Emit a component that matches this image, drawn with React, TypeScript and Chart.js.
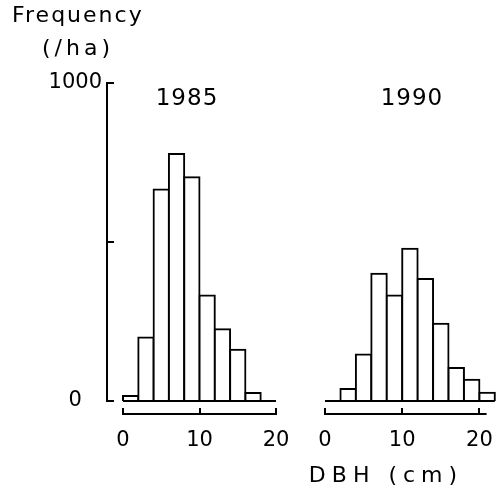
import React, { useEffect, useRef } from "react";
import { Chart, registerables } from "chart.js";

Chart.register(...registerables);

// ---------------- data ----------------
const BIN_WIDTH = 2; // cm
const bins1985 = [0, 2, 4, 6, 8, 10, 12, 14, 16]; // lower bin edges (cm)
const freq1985 = [16, 200, 665, 777, 704, 332, 226, 161, 25]; // trees / ha
const bins1990 = [2, 4, 6, 8, 10, 12, 14, 16, 18, 20];
const freq1990 = [38, 146, 400, 332, 479, 384, 243, 104, 67, 26];
const xTicks = [0, 10, 20];
const yTickMarks = [0, 500, 1000];
const yTickLabels = [0, 1000];
const baseline1985 = [0, 20];
const baseline1990 = [0, 22];
const axisRange1985 = [0, 20];
const axisRange1990 = [0, 20.8];
const panelTitles = ["1985", "1990"];
const yTitleLines = ["Frequency", "(/ha)"];
const xTitle = "DBH (cm)";

// ---------------- style / layout ----------------
const FONT = "'DejaVu Sans', sans-serif";
const W = 501;
const H = 490;
const SPLIT = 290; // where the right panel's canvas begins

type Txt = { text: string; x: (c: any) => number; y: (c: any) => number; size: number; spacing: number; align: CanvasTextAlign; baseline: CanvasTextBaseline };

type PanelCfg = {
  width: number;
  bins: number[];
  freq: number[];
  baseline: number[];
  axisRange: number[];
  xMin: number;
  xMax: number;
  showY: boolean;
  padding: { left: number; right: number; top: number; bottom: number };
  texts: Txt[];
};

const toPoints = (edges: number[], values: number[]) =>
  edges.map((e, i) => ({ x: e + BIN_WIDTH / 2, y: values[i] }));
const toBaseline = (range: number[]) => range.map((x) => ({ x, y: 0 }));

const makePlugin = (cfg: PanelCfg) => ({
  id: "detachedAxes",
  afterDraw(chart: any) {
    const { ctx, chartArea, scales } = chart;
    const y = scales.y;
    const x = scales.x;
    ctx.save();
    ctx.strokeStyle = "#000";
    ctx.lineWidth = 2;
    ctx.lineCap = "square";
    if (cfg.showY) {
      const yx = chartArea.left - 16;
      ctx.beginPath();
      ctx.moveTo(yx, y.getPixelForValue(yTickMarks[0]));
      ctx.lineTo(yx, y.getPixelForValue(yTickMarks[yTickMarks.length - 1]));
      yTickMarks.forEach((v) => {
        const py = Math.round(y.getPixelForValue(v));
        ctx.moveTo(yx, py);
        ctx.lineTo(yx + 6, py);
      });
      ctx.stroke();
    }
    const ay = chartArea.bottom + 13;
    ctx.beginPath();
    ctx.moveTo(x.getPixelForValue(cfg.axisRange[0]), ay);
    ctx.lineTo(x.getPixelForValue(cfg.axisRange[1]), ay);
    xTicks.forEach((v) => {
      const px = Math.round(x.getPixelForValue(v));
      ctx.moveTo(px, ay);
      ctx.lineTo(px, ay - 5);
    });
    ctx.stroke();

    ctx.fillStyle = "#000";
    cfg.texts.forEach((t) => {
      ctx.font = `${t.size}px ${FONT}`;
      (ctx as any).letterSpacing = `${t.spacing}px`;
      ctx.textAlign = t.align;
      ctx.textBaseline = t.baseline;
      const dx = t.align === "center" ? t.spacing / 2 : 0;
      ctx.fillText(t.text, t.x(chart) + dx, t.y(chart));
    });
    ctx.restore();
  },
});

function buildChart(canvas: HTMLCanvasElement, cfg: PanelCfg) {
  return new Chart(canvas, {
    type: "bar",
    data: {
      datasets: [
        {
          type: "bar",
          data: toPoints(cfg.bins, cfg.freq),
          backgroundColor: "#fff",
          borderColor: "#000",
          borderWidth: 2,
          inflateAmount: 1,
          barPercentage: 1,
          categoryPercentage: 1,
          clip: false,
          order: 1,
        } as any,
        {
          type: "line",
          data: toBaseline(cfg.baseline),
          borderColor: "#000",
          borderWidth: 2,
          pointRadius: 0,
          clip: false,
          order: 0,
        } as any,
      ],
    },
    options: {
      responsive: false,
      animation: false,
      devicePixelRatio: 1,
      layout: { padding: cfg.padding },
      plugins: { legend: { display: false }, tooltip: { enabled: false }, title: { display: false } },
      scales: {
        x: {
          type: "linear",
          position: "bottom",
          offset: false,
          min: cfg.xMin,
          max: cfg.xMax,
          bounds: "data",
          afterBuildTicks: (s: any) => {
            s.ticks = xTicks.map((v) => ({ value: v }));
          },
          afterFit: (s: any) => {
            s.height = 60;
            s.paddingLeft = 0;
            s.paddingRight = 0;
          },
          grid: { display: false, drawTicks: false },
          border: { display: false },
          ticks: {
            font: { family: FONT, size: 21 },
            color: "#000",
            padding: 26.9,
            maxRotation: 0,
            autoSkip: false,
            callback: (v: any) => String(v),
          },
        },
        y: {
          type: "linear",
          position: "left",
          display: cfg.showY,
          min: 0,
          max: 1000,
          bounds: "data",
          afterBuildTicks: (s: any) => {
            s.ticks = yTickLabels.map((v) => ({ value: v }));
          },
          afterFit: (s: any) => {
            s.width = cfg.showY ? 74 : 0;
            s.paddingTop = 0;
            s.paddingBottom = 0;
          },
          grid: { display: false, drawTicks: false },
          border: { display: false },
          ticks: {
            crossAlign: "center",
            padding: 21,
            font: { family: FONT, size: 21 },
            color: "#000",
            callback: (v: any) => String(v),
          },
        },
      } as any,
    },
    plugins: [makePlugin(cfg)],
  });
}

const leftCfg: PanelCfg = {
  width: SPLIT,
  bins: bins1985,
  freq: freq1985,
  baseline: baseline1985,
  axisRange: axisRange1985,
  xMin: 0,
  xMax: 21.83,
  showY: true,
  padding: { left: 49, right: 0, top: 83, bottom: 29 },
  texts: [
    { text: panelTitles[0], x: (c) => c.scales.x.getPixelForValue(8.3), y: (c) => c.scales.y.getPixelForValue(950), size: 23, spacing: 1, align: "center", baseline: "middle" },
    { text: yTitleLines[0], x: () => 12, y: () => 22, size: 22, spacing: 2, align: "left", baseline: "alphabetic" },
    { text: yTitleLines[1], x: () => 76, y: () => 55, size: 22, spacing: 4, align: "center", baseline: "alphabetic" },
  ],
};

const rightCfg: PanelCfg = {
  width: W - SPLIT,
  bins: bins1990,
  freq: freq1990,
  baseline: baseline1990,
  axisRange: axisRange1990,
  xMin: -4.53,
  xMax: 22.28,
  showY: false,
  padding: { left: 0, right: 4, top: 83, bottom: 29 },
  texts: [
    { text: panelTitles[1], x: (c) => c.scales.x.getPixelForValue(11.2), y: (c) => c.scales.y.getPixelForValue(950), size: 23, spacing: 1, align: "center", baseline: "middle" },
    { text: xTitle, x: () => 383 - SPLIT, y: () => 482, size: 22, spacing: 6, align: "center", baseline: "alphabetic" },
  ],
};

export default function App() {
  const leftRef = useRef<HTMLCanvasElement | null>(null);
  const rightRef = useRef<HTMLCanvasElement | null>(null);

  useEffect(() => {
    if (!leftRef.current || !rightRef.current) return;
    const a = buildChart(leftRef.current, leftCfg);
    const b = buildChart(rightRef.current, rightCfg);
    return () => {
      a.destroy();
      b.destroy();
    };
  }, []);

  return (
    <div style={{ position: "absolute", left: 0, top: 0, width: W, height: H, background: "#fff" }}>
      <canvas
        ref={leftRef}
        width={leftCfg.width}
        height={H}
        style={{ position: "absolute", left: 0, top: 0, width: leftCfg.width, height: H }}
      />
      <canvas
        ref={rightRef}
        width={rightCfg.width}
        height={H}
        style={{ position: "absolute", left: SPLIT, top: 0, width: rightCfg.width, height: H }}
      />
    </div>
  );
}
